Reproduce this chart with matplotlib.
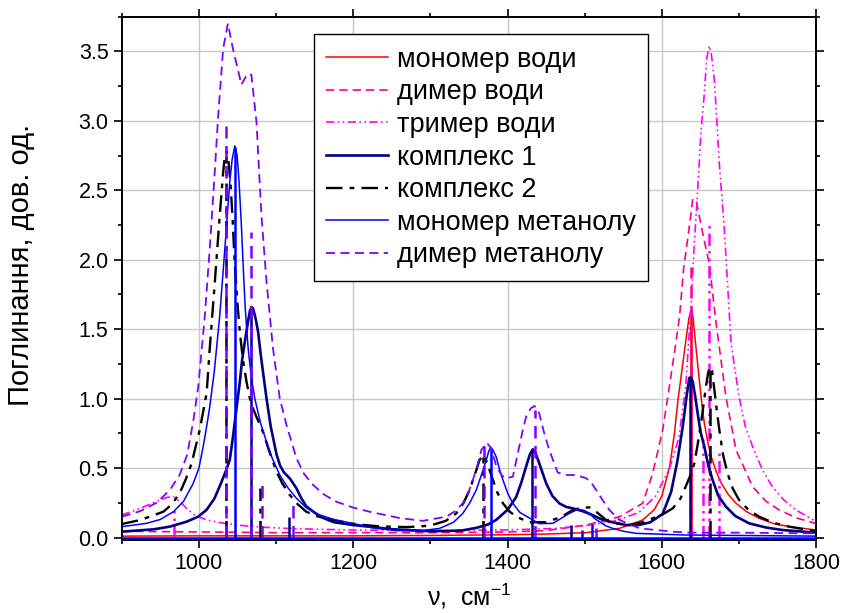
import matplotlib
matplotlib.use("Agg")
import matplotlib.pyplot as plt
from matplotlib.ticker import MultipleLocator, FormatStrFormatter

plt.rcParams['font.family'] = ['Liberation Sans', 'DejaVu Sans']
plt.rcParams['mathtext.fontset'] = 'custom'
plt.rcParams['mathtext.rm'] = 'Liberation Sans'

# --- curves (wavenumber, absorbance) ---
mono_water_x = [900, 1000, 1100, 1200, 1300, 1400, 1450, 1502, 1545, 1575, 1590, 1600, 1610,
                1616, 1621, 1627, 1631, 1635, 1638, 1640, 1642, 1645, 1648.5, 1652, 1655, 1660,
                1664, 1670, 1677, 1686, 1696, 1710, 1726, 1745, 1765, 1800]
mono_water_y = [0.01, 0.012, 0.012, 0.012, 0.015, 0.02, 0.025, 0.035, 0.066, 0.126, 0.2, 0.3, 0.51,
                0.74, 1.0, 1.25, 1.42, 1.58, 1.64, 1.6, 1.49, 1.32, 1.13, 0.95, 0.82, 0.67,
                0.58, 0.48, 0.39, 0.31, 0.246, 0.185, 0.138, 0.1, 0.078, 0.054]

dim_water_x = [900, 1000, 1100, 1200, 1300, 1400, 1450, 1502, 1545, 1575, 1588, 1601, 1610,
               1618, 1623, 1628, 1634.6, 1640, 1645, 1652.8, 1661.4, 1670, 1676, 1683, 1696,
               1717.5, 1735, 1752, 1775, 1800]
dim_water_y = [0.045, 0.04, 0.035, 0.035, 0.035, 0.04, 0.05, 0.09, 0.15, 0.246, 0.462, 0.774, 1.1,
               1.4, 1.6, 1.93, 2.2, 2.44, 2.41, 2.19, 1.97, 1.55, 1.3, 1.01, 0.63,
               0.366, 0.26, 0.198, 0.14, 0.10]

tri_water_x = [900, 924, 945, 958, 967, 975, 984, 995, 1010, 1030, 1049, 1080, 1113, 1150, 1195,
               1300, 1400, 1460, 1500, 1540, 1570, 1592, 1610, 1622, 1631, 1638, 1642, 1646.3,
               1650.7, 1655, 1658, 1661.4, 1664, 1668, 1674.4, 1681, 1689.5, 1700, 1708, 1717.5,
               1730, 1743, 1758, 1773.6, 1800]
tri_water_y = [0.162, 0.21, 0.26, 0.288, 0.294, 0.26, 0.21, 0.16, 0.126, 0.105, 0.09, 0.075, 0.066, 0.06, 0.054,
               0.05, 0.055, 0.065, 0.085, 0.12, 0.18, 0.30, 0.5, 0.72, 1.1, 1.7, 2.12, 2.50,
               2.93, 3.2, 3.45, 3.54, 3.48, 3.29, 2.69, 2.21, 1.40, 1.01, 0.8, 0.654,
               0.49, 0.366, 0.27, 0.198, 0.114]

cmplx1_x = [900, 941, 962, 984, 999, 1010, 1020, 1027, 1035, 1040, 1044, 1048, 1053, 1056, 1059.5,
            1063.8, 1066, 1068.2, 1070, 1072, 1074, 1076.7, 1080, 1087.6, 1093, 1100.5, 1105,
            1110, 1117.7, 1126.4, 1132, 1139, 1157, 1175, 1200, 1250, 1300, 1340, 1360, 1375,
            1385, 1400, 1411, 1418, 1425, 1429, 1432.7, 1436, 1440, 1445, 1450, 1458, 1467,
            1476, 1484.5, 1497, 1510, 1520, 1532, 1553.6, 1570, 1585, 1601, 1612, 1620, 1627,
            1632, 1635.5, 1638, 1640, 1643, 1646.3, 1650, 1655, 1660, 1665.7, 1673, 1683, 1695,
            1713, 1735, 1756, 1800]
cmplx1_y = [0.042, 0.059, 0.078, 0.114, 0.15, 0.2, 0.28, 0.37, 0.48, 0.56, 0.72, 0.9, 1.12, 1.28, 1.41,
            1.56, 1.63, 1.66, 1.65, 1.61, 1.56, 1.48, 1.32, 1.00, 0.8, 0.6, 0.52,
            0.47, 0.426, 0.354, 0.29, 0.225, 0.15, 0.11, 0.09, 0.06, 0.045, 0.05, 0.07, 0.095,
            0.126, 0.2, 0.29, 0.4, 0.53, 0.6, 0.635, 0.61, 0.55, 0.47, 0.39, 0.3, 0.246,
            0.22, 0.21, 0.19, 0.162, 0.135, 0.114, 0.09, 0.09, 0.11, 0.17, 0.33, 0.55, 0.8,
            1.02, 1.15, 1.15, 1.12, 1.02, 0.894, 0.76, 0.654, 0.52, 0.414, 0.3, 0.222, 0.155,
            0.102, 0.072, 0.054, 0.035]

cmplx2_x = [900, 924, 954, 965, 975, 983, 990.5, 1001, 1010, 1014, 1020.6, 1027, 1031.4, 1033.5,
            1035.8, 1038.5, 1041.4, 1044, 1046.5, 1050, 1053, 1057, 1061.7, 1066, 1070, 1076,
            1083, 1090, 1100.5, 1108, 1117.7, 1128, 1139, 1155, 1178, 1205, 1234, 1270, 1299,
            1320, 1333.5, 1343, 1350.7, 1358, 1363.6, 1368.9, 1374, 1381, 1387, 1394, 1402,
            1411, 1428, 1450, 1470, 1484.5, 1496, 1506, 1516, 1527.7, 1542, 1558, 1575, 1588,
            1602, 1614, 1624, 1631, 1637, 1642, 1646, 1650.7, 1654, 1657, 1660, 1662.7, 1665,
            1668, 1671, 1674.4, 1679, 1685, 1692, 1700, 1712, 1726, 1745, 1765, 1800]
cmplx2_y = [0.097, 0.126, 0.186, 0.24, 0.318, 0.42, 0.534, 0.774, 1.04, 1.36, 1.84, 2.32, 2.63, 2.74,
            2.78, 2.7, 2.51, 2.25, 1.96, 1.68, 1.48, 1.28, 1.12, 1.0, 0.93, 0.85,
            0.76, 0.64, 0.474, 0.39, 0.306, 0.24, 0.186, 0.15, 0.12, 0.095, 0.08, 0.075, 0.085,
            0.12, 0.174, 0.25, 0.342, 0.46, 0.558, 0.594, 0.53, 0.414, 0.32, 0.246, 0.19,
            0.15, 0.11, 0.11, 0.15, 0.198, 0.215, 0.217, 0.18, 0.126, 0.1, 0.09, 0.11, 0.138,
            0.17, 0.21, 0.28, 0.37, 0.45, 0.534, 0.66, 0.822, 0.96, 1.086, 1.19, 1.23, 1.2,
            1.06, 0.92, 0.774, 0.6, 0.462, 0.35, 0.27, 0.2, 0.15, 0.105, 0.078, 0.045]

mono_meoh_x = [900, 932, 950, 967, 980, 992.6, 1000, 1005.5, 1010, 1014, 1020, 1027, 1033.6,
               1040, 1043, 1046.5, 1049.5, 1052, 1055, 1057.3, 1060, 1063.8, 1068, 1072.4, 1080,
               1087.6, 1095, 1104.8, 1115, 1126.4, 1140, 1156.6, 1175, 1200, 1225, 1256, 1290,
               1312, 1330, 1342, 1351, 1359.4, 1366, 1372.4, 1375.5, 1378, 1381, 1385.3, 1389,
               1394, 1400, 1406.8, 1416, 1428.4, 1441, 1458.6, 1470, 1480, 1491, 1499, 1506,
               1512, 1519, 1527, 1536, 1550, 1566.5, 1631, 1800]
mono_meoh_y = [0.078, 0.102, 0.13, 0.186, 0.26, 0.39, 0.5, 0.654, 0.8, 0.94, 1.2, 1.60, 2.08,
               2.56, 2.72, 2.82, 2.75, 2.56, 2.25, 1.96, 1.65, 1.36, 1.15, 1.00, 0.82,
               0.69, 0.57, 0.45, 0.36, 0.282, 0.21, 0.162, 0.13, 0.1, 0.07, 0.05, 0.05,
               0.066, 0.11, 0.174, 0.25, 0.342, 0.45, 0.558, 0.62, 0.65, 0.63, 0.58, 0.5,
               0.414, 0.32, 0.246, 0.18, 0.14, 0.1, 0.102, 0.14, 0.174, 0.203, 0.195, 0.174,
               0.14, 0.114, 0.085, 0.066, 0.045, 0.03, 0.018, 0.01]

dim_meoh_x = [900, 924, 945, 962, 975, 985, 993, 999, 1007.7, 1014, 1019.7, 1025, 1031.4, 1037.5,
              1044, 1050, 1055, 1060, 1063.8, 1068, 1074.6, 1081, 1087.6, 1096, 1104.8, 1113.5,
              1126.4, 1136, 1148, 1162, 1178, 1200, 1221, 1260, 1290, 1320.6, 1332, 1342, 1349,
              1355, 1361, 1366, 1373, 1379, 1385, 1392, 1398, 1406.8, 1413, 1419.7, 1424, 1430,
              1435, 1441, 1447, 1454, 1465, 1477, 1489, 1502, 1509, 1514.8, 1523, 1532, 1545,
              1571, 1614, 1636, 1700, 1800]
dim_meoh_y = [0.15, 0.19, 0.25, 0.34, 0.45, 0.6, 0.85, 1.08, 1.60, 2.08, 2.56, 3.04, 3.52, 3.70,
              3.52, 3.38, 3.26, 3.31, 3.34, 3.33, 2.99, 2.32, 1.84, 1.36, 1.00, 0.81,
              0.57, 0.46, 0.378, 0.31, 0.258, 0.215, 0.186, 0.14, 0.12, 0.15, 0.19, 0.246, 0.32,
              0.414, 0.52, 0.63, 0.683, 0.64, 0.52, 0.45, 0.426, 0.438, 0.6, 0.774, 0.87, 0.93,
              0.947, 0.894, 0.76, 0.63, 0.467, 0.45, 0.45, 0.426, 0.39, 0.342, 0.27, 0.198, 0.126,
              0.066, 0.042, 0.035, 0.035, 0.03]

# --- stick spectra (position, intensity) ---
mono_water_sx, mono_water_sy = [1638], [1.64]
dim_water_sx, dim_water_sy = [1638], [1.95]
tri_water_sx, tri_water_sy = [968, 1653, 1661, 1674], [0.21, 0.71, 2.27, 0.62]
cmplx1_sx, cmplx1_sy = [1068, 1117, 1432, 1482, 1636], [1.63, 0.15, 0.63, 0.09, 1.15]
cmplx2_sx, cmplx2_sy = [1035, 1079, 1368, 1662], [2.75, 0.36, 0.58, 1.23]
mono_meoh_sx, mono_meoh_sy = [1046.5, 1378, 1497, 1510], [2.81, 0.64, 0.054, 0.097]
dim_meoh_sx, dim_meoh_sy = [1034.5, 1067, 1082, 1122, 1370, 1435, 1514], [2.96, 2.2, 0.40, 0.25, 0.66, 0.92, 0.066]

labels = ["мономер води", "димер води", "тример води", "комплекс 1", "комплекс 2",
          "мономер метанолу", "димер метанолу"]

series = [
    (mono_water_x, mono_water_y, mono_water_sx, mono_water_sy, dict(color="#ff0000", lw=1.1, ls="-")),
    (dim_water_x, dim_water_y, dim_water_sx, dim_water_sy, dict(color="#ff0080", lw=1.2, ls=(0, (5, 3)))),
    (tri_water_x, tri_water_y, tri_water_sx, tri_water_sy, dict(color="#ff00ff", lw=1.2, ls=(0, (5, 2, 1, 2, 1, 2)))),
    (cmplx1_x, cmplx1_y, cmplx1_sx, cmplx1_sy, dict(color="#000080", lw=1.9, ls="-")),
    (cmplx2_x, cmplx2_y, cmplx2_sx, cmplx2_sy, dict(color="#000000", lw=1.7, ls=(0, (7, 3, 2, 3)))),
    (mono_meoh_x, mono_meoh_y, mono_meoh_sx, mono_meoh_sy, dict(color="#0000ff", lw=1.1, ls="-")),
    (dim_meoh_x, dim_meoh_y, dim_meoh_sx, dim_meoh_sy, dict(color="#8000ff", lw=1.3, ls=(0, (5, 3)))),
]

fig = plt.figure(figsize=(8.45, 6.13), dpi=100)
ax = fig.add_axes([0.1441, 0.1186, 0.8219, 0.8543])

for (x, y, sx, sy, st), lab in zip(series, labels):
    ax.plot(x, y, label=lab, **st)
    ax.vlines(sx, 0, sy, colors=st["color"], linestyles=st["ls"], lw=1.8)

# stick baselines
ax.axhline(0, color="#0000ff", lw=1.8, zorder=3)

ax.set_xlim(900, 1800)
ax.set_ylim(-0.02, 3.75)
ax.xaxis.set_major_locator(MultipleLocator(200))
ax.xaxis.set_minor_locator(MultipleLocator(100))
ax.yaxis.set_major_locator(MultipleLocator(0.5))
ax.yaxis.set_minor_locator(MultipleLocator(0.25))
ax.yaxis.set_major_formatter(FormatStrFormatter("%.1f"))

ax.grid(True, which="major", color="#c8c8c8", lw=1.0)
ax.set_axisbelow(True)
ax.tick_params(which="both", direction="out", top=True, right=True, width=1.2, labelsize=15.5)
ax.tick_params(which="major", length=6)
ax.tick_params(which="minor", length=3)
for s in ax.spines.values():
    s.set_linewidth(1.4)

ax.set_xlabel("ν,  см$^{-1}$", fontsize=18, labelpad=5)
ax.set_ylabel("Поглинання, дов. од.", fontsize=21)
ax.yaxis.set_label_coords(-0.125, 0.526)

leg = ax.legend(loc="upper left", bbox_to_anchor=(0.2767, 0.966), borderaxespad=0,
                fontsize=19.5, handlelength=2.3, labelspacing=0.245, handletextpad=0.3,
                fancybox=False, framealpha=1, edgecolor="black", borderpad=0.45)
leg.get_frame().set_linewidth(1.0)

fig.savefig("out.png", dpi=100)
